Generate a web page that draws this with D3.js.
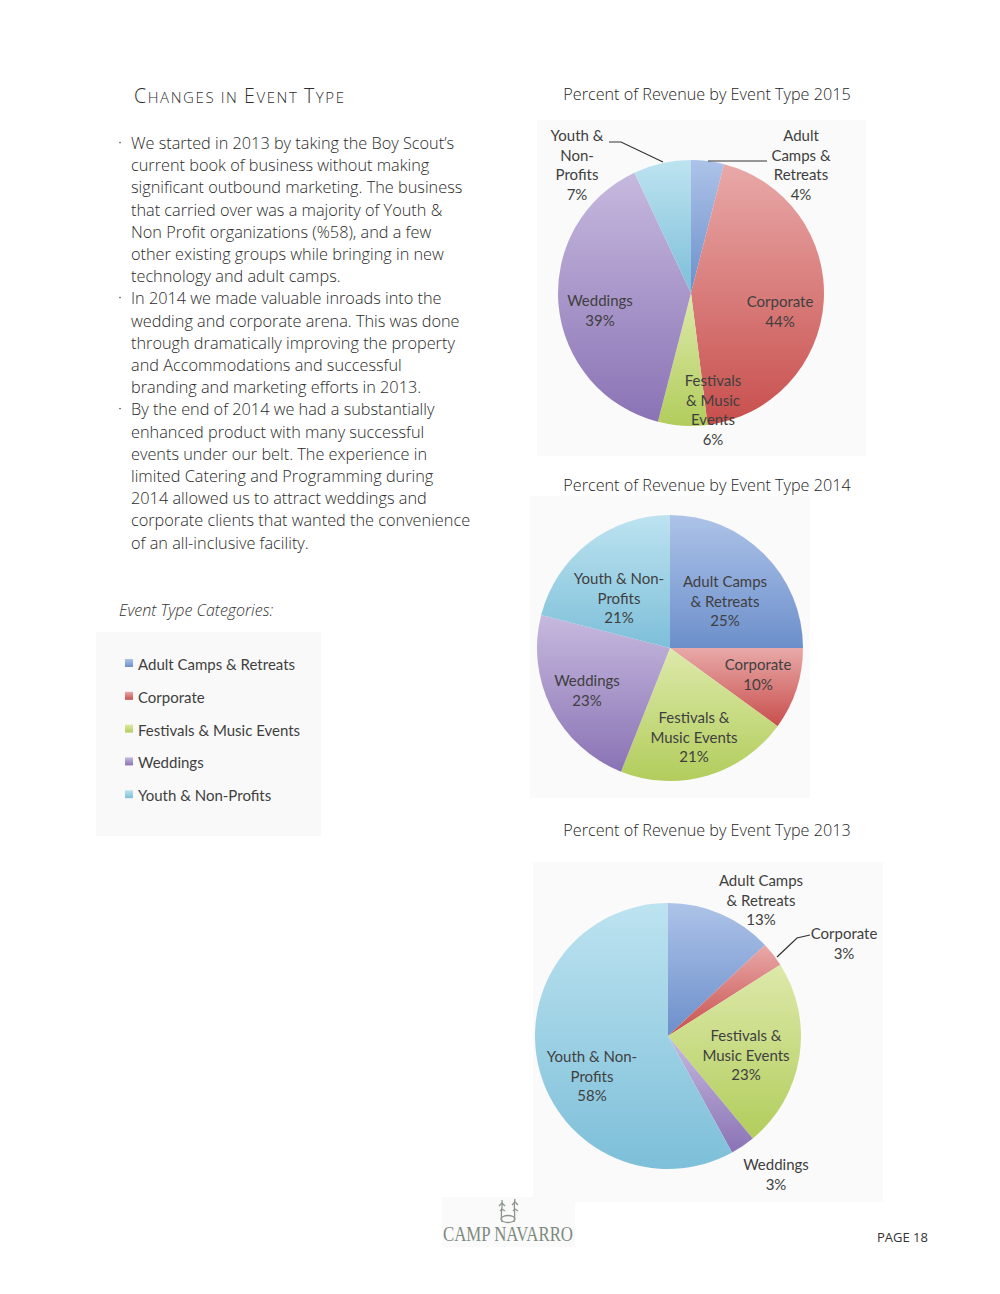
<!DOCTYPE html>
<html>
<head>
<meta charset="utf-8">
<script src="https://cdn.jsdelivr.net/npm/d3@7"></script>
<style>
  html, body { margin: 0; padding: 0; background: #ffffff; }
  svg { display: block; }
</style>
</head>
<body>
<svg id="page" width="1000" height="1294"></svg>
<script>
// ---------------- DATA ----------------
const categories = ["Adult Camps & Retreats", "Corporate", "Festivals & Music Events", "Weddings", "Youth & Non-Profits"];
const values2015 = [4, 44, 6, 39, 7];
const values2014 = [25, 10, 21, 23, 21];
const values2013 = [13, 3, 23, 3, 58];
const chartTitles = ["Percent of Revenue by Event Type 2015", "Percent of Revenue by Event Type 2014", "Percent of Revenue by Event Type 2013"];

// label text lines per chart (category order)
const labelLines2015 = [["Adult", "Camps &", "Retreats", "4%"], ["Corporate", "44%"], ["Festivals", "& Music", "Events", "6%"], ["Weddings", "39%"], ["Youth &", "Non-", "Profits", "7%"]];
const labelLines2014 = [["Adult Camps", "& Retreats", "25%"], ["Corporate", "10%"], ["Festivals &", "Music Events", "21%"], ["Weddings", "23%"], ["Youth & Non-", "Profits", "21%"]];
const labelLines2013 = [["Adult Camps", "& Retreats", "13%"], ["Corporate", "3%"], ["Festivals &", "Music Events", "23%"], ["Weddings", "3%"], ["Youth & Non-", "Profits", "58%"]];

const bodyLines = [
  ["·", "We started in 2013 by taking the Boy Scout’s"],
  ["", "current book of business without making"],
  ["", "significant outbound marketing. The business"],
  ["", "that carried over was a majority of Youth &"],
  ["", "Non Profit organizations (%58), and a few"],
  ["", "other existing groups while bringing in new"],
  ["", "technology and adult camps."],
  ["·", "In 2014 we made valuable inroads into the"],
  ["", "wedding and corporate arena. This was done"],
  ["", "through dramatically improving the property"],
  ["", "and Accommodations and successful"],
  ["", "branding and marketing efforts in 2013."],
  ["·", "By the end of 2014 we had a substantially"],
  ["", "enhanced product with many successful"],
  ["", "events under our belt. The experience in"],
  ["", "limited Catering and Programming during"],
  ["", "2014 allowed us to attract weddings and"],
  ["", "corporate clients that wanted the convenience"],
  ["", "of an all-inclusive facility."]
];

// ---------------- STYLE / LAYOUT ----------------
const colorTop = ["#adc3e8", "#e8a9a8", "#dde9aa", "#c6b9de", "#bde3f0"];
const colorBot = ["#6c8fcb", "#c84f4d", "#b2cd5c", "#8a73b5", "#7dbfd9"];
const labelColor = "#3f3f3f";
const labelFont = "Lato, 'Open Sans', sans-serif";

// label offsets: [dx, dy of first line centre] relative to the pie centre
const charts = [
  { values: values2015, lines: labelLines2015, title: chartTitles[0], titleX: 707, titleY: 100,
    cx: 691, cy: 293, r: 133, box: [537, 120, 329, 336],
    labels: [[110, -157], [89, 9], [22, 88], [-91, 8], [-114, -157]],
    leaders: [[[708, 161], [767, 161]], [[609, 142], [621, 142], [663, 162]]] },
  { values: values2014, lines: labelLines2014, title: chartTitles[1], titleX: 707, titleY: 491,
    cx: 670, cy: 648, r: 133, box: [530, 496, 280, 302],
    labels: [[55, -66], [88, 17], [24, 70], [-83, 33], [-51, -69]],
    leaders: [] },
  { values: values2013, lines: labelLines2013, title: chartTitles[2], titleX: 707, titleY: 836,
    cx: 668, cy: 1036, r: 133, box: [533, 862, 350, 340],
    labels: [[93, -155], [176, -102], [78, 0], [108, 129], [-76, 21]],
    leaders: [[[777, 957], [797, 938], [810, 935]]] }
];

const svg = d3.select("#page");
const defs = svg.append("defs");
categories.forEach((c, i) => {
  const g = defs.append("linearGradient").attr("id", "grad" + i)
    .attr("x1", 0).attr("y1", 0).attr("x2", 0).attr("y2", 1);
  g.append("stop").attr("offset", "0%").attr("stop-color", colorTop[i]);
  g.append("stop").attr("offset", "100%").attr("stop-color", colorBot[i]);
});

// ---------------- LEFT TEXT ----------------
const title = svg.append("text").attr("x", 134).attr("y", 103)
  .attr("font-family", "'Open Sans', sans-serif").attr("fill", "#2e2e2e").attr("letter-spacing", 1.6)
  .style("font-weight", 300);
[["C", 19.5], ["HANGES ", 15], ["IN ", 15], ["E", 19.5], ["VENT ", 15], ["T", 19.5], ["YPE", 15]]
  .forEach(p => title.append("tspan").attr("font-size", p[1]).text(p[0]));

const body = svg.append("g").attr("font-family", "'Open Sans', sans-serif")
  .attr("font-size", 16.3).attr("fill", "#2a2a2a").style("font-weight", 300);
bodyLines.forEach((l, i) => {
  const y = 149 + i * 22.2;
  if (l[0]) body.append("text").attr("x", 118).attr("y", y - 1).text(l[0]);
  body.append("text").attr("x", 131).attr("y", y).text(l[1]);
});

svg.append("text").attr("x", 119).attr("y", 616)
  .attr("font-family", "'Open Sans', sans-serif").attr("font-size", 16)
  .attr("font-style", "italic").style("font-weight", 300).attr("fill", "#333")
  .text("Event Type Categories:");

// legend box
svg.append("rect").attr("x", 96).attr("y", 632).attr("width", 225).attr("height", 204).attr("fill", "#f9f9f9");
const legend = svg.append("g");
categories.forEach((c, i) => {
  const y = 665 + i * 32.8;
  legend.append("rect").attr("x", 125).attr("y", y - 6).attr("width", 8).attr("height", 8)
    .attr("fill", "url(#grad" + i + ")");
  legend.append("text").attr("x", 138).attr("y", y + 5)
    .attr("font-family", labelFont).attr("font-size", 15).attr("fill", labelColor).text(c);
});

// ---------------- PIES ----------------
const pie = d3.pie().sort(null).value(d => d);
charts.forEach(ch => {
  svg.append("rect").attr("x", ch.box[0]).attr("y", ch.box[1]).attr("width", ch.box[2]).attr("height", ch.box[3])
    .attr("fill", "#fafafa");
  svg.append("text").attr("x", ch.titleX).attr("y", ch.titleY).attr("text-anchor", "middle")
    .attr("font-family", "'Open Sans', sans-serif").attr("font-size", 16.2).style("font-weight", 300)
    .attr("fill", "#1e1e1e").text(ch.title);

  const arc = d3.arc().innerRadius(0).outerRadius(ch.r);
  const g = svg.append("g").attr("transform", `translate(${ch.cx},${ch.cy})`);
  g.selectAll("path.slice").data(pie(ch.values)).join("path").attr("class", "slice")
    .attr("d", arc).attr("fill", (d, i) => "url(#grad" + i + ")");

  ch.leaders.forEach(pts => {
    svg.append("path").attr("d", d3.line()(pts)).attr("fill", "none")
      .attr("stroke", "#333").attr("stroke-width", 1.2);
  });

  ch.lines.forEach((lines, i) => {
    const [dx, dy] = ch.labels[i];
    const lh = 19.7;
    const t = g.append("text").attr("text-anchor", "middle")
      .attr("font-family", labelFont).attr("font-size", 15).attr("fill", labelColor);
    lines.forEach((ln, k) => {
      t.append("tspan").attr("x", dx).attr("y", dy + k * lh + 5).text(ln);
    });
  });
});

// ---------------- FOOTER ----------------
const logo = svg.append("g");
logo.append("rect").attr("x", 442).attr("y", 1197).attr("width", 133).attr("height", 50).attr("fill", "#fafafa");
const icon = logo.append("g").attr("fill", "none").attr("stroke", "#8c978c").attr("stroke-width", 1.3);
icon.append("path").attr("d", "M502,1222 C500,1214 503,1207 502,1200 M514,1222 C516,1214 513,1207 515,1199");
icon.append("path").attr("d", "M499,1206 l3,-3 l3,3 M512,1205 l3,-3 l3,3 M500,1211 l2,-2 l3,2 M513,1211 l2,-2 l3,2");
icon.append("ellipse").attr("cx", 508).attr("cy", 1219).attr("rx", 7).attr("ry", 3.5);
logo.append("text").attr("x", 443).attr("y", 1241).attr("textLength", 130).attr("lengthAdjust", "spacingAndGlyphs")
  .attr("font-family", "'Liberation Serif', 'DejaVu Serif', serif").attr("font-size", 20)
  .attr("fill", "#7e8a7f").text("CAMP NAVARRO");

svg.append("text").attr("x", 928).attr("y", 1242).attr("text-anchor", "end")
  .attr("font-family", "'Open Sans', sans-serif").attr("font-size", 13).attr("fill", "#333")
  .text("PAGE 18");
</script>
</body>
</html>
